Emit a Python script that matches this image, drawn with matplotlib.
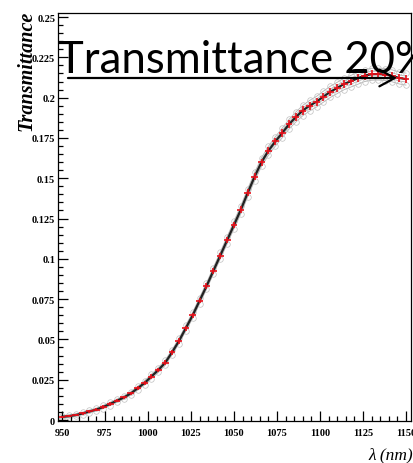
import numpy as np
import matplotlib.pyplot as plt
from matplotlib.ticker import MultipleLocator

# wavelength grid (nm) and mean transmittance
wavelength = [950, 954, 958, 962, 966, 970, 974, 978, 982, 986,
              990, 994, 998, 1002, 1006, 1010, 1014, 1018, 1022, 1026,
              1030, 1034, 1038, 1042, 1046, 1050, 1054, 1058, 1062, 1066,
              1070, 1074, 1078, 1082, 1086, 1090, 1094, 1098, 1102, 1106,
              1110, 1114, 1118, 1122, 1126, 1130, 1134, 1138, 1142, 1146, 1150]
transmittance = [0.002, 0.0024, 0.0031, 0.0041, 0.0053, 0.0065, 0.0081, 0.010, 0.012, 0.014,
                 0.0165, 0.0197, 0.023, 0.027, 0.031, 0.0355, 0.042, 0.049, 0.057, 0.065,
                 0.074, 0.083, 0.0925, 0.102, 0.1115, 0.121, 0.1305, 0.141, 0.151, 0.160,
                 0.167, 0.1728, 0.178, 0.1835, 0.188, 0.192, 0.195, 0.1975, 0.2006, 0.2036,
                 0.206, 0.2085, 0.2102, 0.212, 0.2137, 0.2145, 0.2146, 0.2143, 0.2135, 0.2122, 0.2115]
# spread of the individual gray curves around the mean
t_spread = [0.0008, 0.0008, 0.0008, 0.0008, 0.0009, 0.0009, 0.001, 0.001, 0.001, 0.0011,
            0.0011, 0.0012, 0.0013, 0.0014, 0.0015, 0.0016, 0.0016, 0.0017, 0.0018, 0.0019,
            0.002, 0.002, 0.0021, 0.0022, 0.0023, 0.0024, 0.0025, 0.0025, 0.0026, 0.0027,
            0.0028, 0.0029, 0.003, 0.003, 0.0031, 0.0032, 0.0033, 0.0033, 0.0034, 0.0035,
            0.0035, 0.0036, 0.0036, 0.0037, 0.0037, 0.0037, 0.0037, 0.0037, 0.0037, 0.0037, 0.0037]
# red error bars
t_err = [0.0008, 0.0008, 0.0008, 0.0009, 0.0009, 0.001, 0.001, 0.0011, 0.0011, 0.0012,
         0.0012, 0.0013, 0.0013, 0.0014, 0.0014, 0.0015, 0.0015, 0.0016, 0.0016, 0.0017,
         0.0017, 0.0018, 0.0018, 0.0019, 0.0019, 0.002, 0.002, 0.0021, 0.0021, 0.0022,
         0.0022, 0.0023, 0.0023, 0.0024, 0.0024, 0.0025, 0.0025, 0.0025, 0.0025, 0.0025,
         0.0025, 0.0025, 0.0025, 0.0025, 0.0025, 0.0025, 0.0025, 0.0025, 0.0025, 0.0025, 0.0025]
x_half_bin = 2

x_ticks = [950, 975, 1000, 1025, 1050, 1075, 1100, 1125, 1150]
y_ticks = [0, 0.025, 0.05, 0.075, 0.1, 0.125, 0.15, 0.175, 0.2, 0.225, 0.25]
y_tick_labels = ['0', '0.025', '0.05', '0.075', '0.1', '0.125', '0.15', '0.175', '0.2', '0.225', '0.25']

overlay_text = 'Transmittance 20%'

W, H = 414, 464
fig = plt.figure(figsize=(W / 100, H / 100), dpi=100)
ax = fig.add_axes([58 / W, 1 - 422 / H, (411 - 58) / W, (422 - 14) / H])

lam = np.array(wavelength)
t = np.array(transmittance)
s = np.array(t_spread)

# gray band of individual curves
for k in (-1.0, -0.5, 0.5, 1.0):
    ax.plot(lam, t + k * s, color='0.7', lw=0.6, zorder=1)
for k in (-1.0, 1.0):
    ax.plot(lam, t + k * s, ls='none', marker='o', ms=4, mfc='none',
            mec='0.75', mew=0.5, zorder=1)

ax.plot(lam, t, color='#222222', lw=1.6, zorder=2)
ax.errorbar(lam, t, xerr=x_half_bin, yerr=t_err, fmt='none',
            ecolor='#e8101a', elinewidth=1.2, capsize=0, zorder=3)

ax.set_xlim(947.7, 1152.9)
ax.set_ylim(-0.0006, 0.2525)

ax.set_xticks(x_ticks)
ax.set_yticks(y_ticks)
ax.set_yticklabels(y_tick_labels)
ax.xaxis.set_minor_locator(MultipleLocator(5))
ax.yaxis.set_minor_locator(MultipleLocator(0.005))
ax.tick_params(which='both', direction='in', top=False, right=False,
               width=0.9, color='black')
ax.tick_params(which='major', length=7)
ax.tick_params(which='minor', length=3.5)
ax.tick_params(axis='x', pad=5)
ax.tick_params(axis='y', pad=2)
for lbl in ax.get_xticklabels() + ax.get_yticklabels():
    lbl.set_family('Liberation Serif')
    lbl.set_fontweight('bold')
    lbl.set_fontsize(7.5)
for sp in ax.spines.values():
    sp.set_linewidth(0.9)

fig.text(27 / W, 1 - 11 / H, 'Transmittance', rotation=90, ha='center', va='top',
         family='Liberation Serif', style='italic', fontweight='bold', fontsize=14.5)
fig.text(413 / W, 1 - 463 / H, 'λ (nm)', ha='right', va='bottom',
         family='Liberation Serif', style='italic', fontsize=12.5)

fig.text(58 / W, 1 - 73 / H, overlay_text, ha='left', va='baseline',
         family='Lato', fontsize=31.5, color='black')
ax.annotate('', xy=(397 / W, 1 - 79 / H), xytext=(68 / W, 1 - 79 / H),
            xycoords='figure fraction', textcoords='figure fraction',
            arrowprops=dict(arrowstyle='->,head_length=1.1,head_width=0.6',
                            color='black', lw=1.6, shrinkA=0, shrinkB=0))

fig.savefig('out.png', dpi=100)
